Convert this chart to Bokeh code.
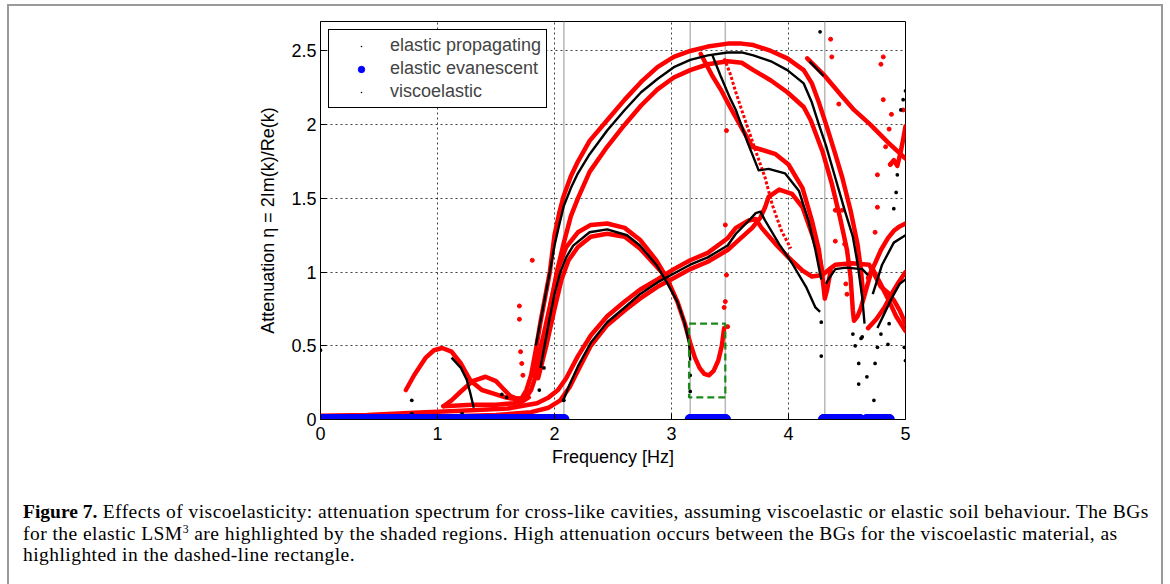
from bokeh.plotting import figure
from bokeh.models import (Legend, LegendItem, Span, Div, FixedTicker, NumeralTickFormatter)
from bokeh.layouts import column
from bokeh.embed import file_html
from bokeh.resources import INLINE

# ---------------- data ----------------
freq_ticks = [0, 1, 2, 3, 4, 5]
eta_ticks = [0, 0.5, 1, 1.5, 2, 2.5]
grid_freq = [1, 2, 3, 4]

band_start = [0.0, 3.16, 4.30, 4.67]
band_end = [2.08, 3.46, 4.61, 4.86]
band_edges = [2.08, 3.16, 3.46, 4.31]

box_f = [3.15, 3.46]
box_eta = [0.15, 0.65]

# viscoelastic branches (red)
ve1_f = [0.73, 0.8, 0.9, 0.97, 1.04, 1.12, 1.2, 1.28, 1.38, 1.48, 1.58, 1.65, 1.72, 1.76, 1.8, 1.84, 1.88,
         1.92, 1.96, 2.0, 2.04, 2.08, 2.14, 2.2, 2.3, 2.45, 2.6, 2.74, 2.88, 3.02, 3.16, 3.31, 3.48, 3.6,
         3.7, 3.85, 3.99, 4.13, 4.2, 4.26, 4.33, 4.4, 4.46, 4.53, 4.59, 4.62, 4.64]
ve1_eta = [0.2, 0.3, 0.42, 0.47, 0.485, 0.46, 0.38, 0.265, 0.2, 0.175, 0.15, 0.14, 0.145, 0.2, 0.3, 0.47, 0.66,
           0.83, 1.0, 1.25, 1.4, 1.52, 1.65, 1.75, 1.89, 2.03, 2.17, 2.29, 2.39, 2.46, 2.5, 2.53, 2.55, 2.55,
           2.54, 2.5, 2.45, 2.37, 2.28, 2.15, 1.98, 1.8, 1.64, 1.42, 1.19, 1.01, 0.83]
ve2_f = [1.05, 1.12, 1.2, 1.3, 1.41, 1.5, 1.56, 1.62, 1.68, 1.75, 1.8, 1.85, 1.9, 1.96, 2.02, 2.08, 2.14, 2.2,
         2.3, 2.45, 2.6, 2.74, 2.88, 3.02, 3.16, 3.31, 3.48, 3.6, 3.7, 3.85, 3.99, 4.13, 4.19, 4.29, 4.37,
         4.44, 4.5, 4.53, 4.55, 4.56, 4.59, 4.62, 4.67, 4.71]
ve2_eta = [0.09, 0.13, 0.19, 0.26, 0.29, 0.26, 0.21, 0.16, 0.14, 0.14, 0.2, 0.32, 0.5, 0.75, 1.0, 1.2, 1.38,
           1.5, 1.68, 1.85, 2.0, 2.13, 2.24, 2.32, 2.37, 2.41, 2.43, 2.42, 2.37, 2.3, 2.22, 2.12, 2.03, 1.82,
           1.6, 1.37, 1.15, 0.97, 0.74, 0.67, 0.7, 0.76, 0.9, 1.01]
ve3_f = [0.0, 0.4, 0.8, 1.2, 1.6, 1.85, 1.95, 2.03, 2.1, 2.2, 2.31, 2.45, 2.6, 2.73, 2.88, 3.02, 3.16, 3.31,
         3.48, 3.55, 3.66, 3.72, 3.77, 3.89, 4.0, 4.12, 4.2, 4.29, 4.35, 4.4, 4.54, 4.69, 4.79, 4.85, 4.9,
         4.95, 5.0]
ve3_eta = [0.025, 0.03, 0.045, 0.06, 0.075, 0.11, 0.15, 0.2, 0.28, 0.43, 0.57, 0.7, 0.8, 0.88, 0.95, 1.02,
           1.08, 1.13, 1.23, 1.3, 1.35, 1.36, 1.3, 1.19, 1.1, 1.01, 0.97, 0.98, 1.02, 1.05, 1.06, 1.05, 0.9,
           0.86, 0.81, 0.74, 0.65]
ve4_f = [0.0, 0.5, 1.0, 1.5, 1.8, 1.95, 2.05, 2.13, 2.2, 2.31, 2.45, 2.6, 2.73, 2.88, 3.02, 3.16, 3.31, 3.48,
         3.55, 3.69, 3.76, 3.8, 3.83, 3.92, 4.03, 4.12, 4.2, 4.26, 4.29]
ve4_eta = [0.01, 0.012, 0.018, 0.03, 0.05, 0.08, 0.13, 0.22, 0.33, 0.5, 0.64, 0.74, 0.82, 0.9, 0.96, 1.02,
           1.07, 1.15, 1.2, 1.3, 1.37, 1.44, 1.51, 1.56, 1.53, 1.44, 1.26, 1.12, 1.0]
ve5_f = [1.82, 1.9, 1.97, 2.03, 2.1, 2.2, 2.31, 2.45, 2.6, 2.73, 2.87, 2.96, 3.05, 3.11, 3.16, 3.2, 3.24, 3.28,
         3.32, 3.36, 3.4, 3.43, 3.45]
ve5_eta = [0.3, 0.55, 0.8, 1.02, 1.17, 1.27, 1.32, 1.33, 1.3, 1.22, 1.08, 0.96, 0.8, 0.66, 0.52, 0.42, 0.35,
           0.31, 0.3, 0.33, 0.4, 0.5, 0.62]
ve6_f = [1.86, 1.93, 2.0, 2.06, 2.12, 2.2, 2.31, 2.45, 2.6, 2.73, 2.87, 2.96]
ve6_eta = [0.28, 0.5, 0.75, 0.95, 1.08, 1.17, 1.24, 1.26, 1.24, 1.16, 1.04, 0.96]
ve7_f = [3.25, 3.35, 3.42, 3.5, 3.55, 3.62, 3.69, 3.77, 3.89, 4.0, 4.12, 4.2, 4.26, 4.29, 4.31, 4.33, 4.36]
ve7_eta = [2.48, 2.33, 2.24, 2.12, 2.05, 1.95, 1.85, 1.83, 1.8, 1.73, 1.57, 1.35, 1.15, 0.97, 0.82, 0.88, 1.01]
ve8_f = [3.45, 3.5, 3.55, 3.6, 3.66, 3.72, 3.8, 3.86, 3.94, 4.02]
ve8_eta = [2.45, 2.35, 2.22, 2.1, 1.96, 1.82, 1.64, 1.46, 1.28, 1.16]
ve9_f = [4.16, 4.3, 4.45, 4.56, 4.7, 4.85, 5.0]
ve9_eta = [2.45, 2.34, 2.2, 2.1, 2.0, 1.88, 1.77]
ve11_f = [4.68, 4.75, 4.82, 4.88, 4.94, 5.0]
ve11_eta = [0.62, 0.68, 0.76, 0.85, 0.93, 1.0]
ve12_f = [4.68, 4.74, 4.79, 4.85, 4.9, 4.95, 5.0]
ve12_eta = [0.96, 1.06, 1.15, 1.23, 1.28, 1.31, 1.33]
ve13_f = [4.72, 4.78, 4.85, 4.92, 5.0]
ve13_eta = [1.02, 0.93, 0.82, 0.7, 0.6]
ve14_f = [4.87, 4.9, 4.93, 4.96, 4.98, 5.0]
ve14_eta = [1.73, 1.76, 1.72, 1.82, 1.9, 1.99]
ve15_f = [1.05, 1.3, 1.5, 1.65, 1.72, 1.78]
ve15_eta = [0.09, 0.1, 0.1, 0.11, 0.12, 0.15]

ve_stray_f = [1.70, 1.70, 1.71, 1.72, 1.73, 1.81, 3.47, 3.46, 3.47, 3.46, 3.48, 3.45, 4.36, 4.37, 4.43, 4.40,
              4.46, 4.40, 4.48, 4.49, 4.50, 4.74, 4.76, 4.81, 4.79, 4.81, 4.88, 4.76, 4.83, 4.86, 4.87, 4.98]
ve_stray_eta = [0.77, 0.68, 0.46, 0.38, 0.3, 1.08, 1.96, 1.32, 0.98, 0.8, 0.63, 0.76, 2.58, 2.46, 2.14, 1.42,
                1.42, 1.21, 1.19, 0.92, 0.85, 1.27, 1.44, 2.46, 2.41, 2.17, 2.07, 1.66, 1.85, 1.97, 1.73, 2.1]

# elastic propagating branches (black)
ep1_f = [1.84, 1.9, 1.96, 2.0, 2.04, 2.08, 2.14, 2.2, 2.3, 2.45, 2.6, 2.74, 2.88, 3.02, 3.16, 3.31, 3.48, 3.6,
         3.7, 3.85, 3.99, 4.13, 4.2, 4.26, 4.32, 4.4, 4.48, 4.55, 4.59, 4.63, 4.65]
ep1_eta = [0.5, 0.75, 1.0, 1.18, 1.32, 1.45, 1.57, 1.67, 1.8, 1.96, 2.1, 2.22, 2.31, 2.39, 2.44, 2.47, 2.49,
           2.49, 2.47, 2.43, 2.37, 2.28, 2.15, 2.0, 1.86, 1.64, 1.42, 1.24, 1.06, 0.83, 0.65]
ep2_f = [1.88, 1.95, 2.0, 2.05, 2.1, 2.16, 2.3, 2.45, 2.62, 2.73, 2.87, 2.96, 3.05, 3.11, 3.15, 3.16]
ep2_eta = [0.35, 0.65, 0.85, 1.0, 1.1, 1.18, 1.27, 1.29, 1.25, 1.18, 1.05, 0.93, 0.8, 0.66, 0.52, 0.4]
ep3_f = [2.07, 2.12, 2.2, 2.31, 2.45, 2.6, 2.73, 2.88, 3.02, 3.16, 3.31, 3.48, 3.55, 3.65, 3.72, 3.76, 3.8,
         3.92, 4.03, 4.15, 4.23, 4.27]
ep3_eta = [0.12, 0.22, 0.36, 0.52, 0.66, 0.76, 0.85, 0.93, 0.99, 1.05, 1.1, 1.18, 1.26, 1.34, 1.4, 1.41, 1.35,
           1.19, 1.06, 0.9, 0.76, 0.73]
ep4_f = [3.35, 3.42, 3.5, 3.55, 3.65, 3.745, 3.83, 3.97, 4.09, 4.17, 4.23, 4.26, 4.28]
ep4_eta = [2.47, 2.33, 2.18, 2.1, 1.88, 1.69, 1.7, 1.67, 1.55, 1.35, 1.15, 1.03, 0.95]
ep5_f = [4.32, 4.34, 4.4, 4.49, 4.63, 4.68]
ep5_eta = [0.92, 0.95, 1.02, 1.03, 1.02, 0.98]
ep6_f = [4.72, 4.8, 4.9, 5.0]
ep6_eta = [0.85, 1.05, 1.2, 1.25]
ep7_f = [4.76, 4.82, 4.88, 4.95, 5.0]
ep7_eta = [0.62, 0.72, 0.82, 0.92, 0.95]
ep8_f = [4.18, 4.3]
ep8_eta = [2.43, 2.33]
ep9_f = [1.12, 1.2, 1.25, 1.28, 1.31]
ep9_eta = [0.42, 0.35, 0.27, 0.18, 0.08]

ep_stray_f = [0.0, 0.78, 0.78, 1.21, 1.59, 1.55, 1.87, 1.91, 2.08, 3.16, 3.16, 4.27, 4.28, 4.28, 4.6, 4.6, 4.63,
              4.67, 4.73, 4.74, 4.76, 4.79, 4.85, 4.86, 5.0, 4.99, 5.0, 4.98, 4.96, 4.93, 4.92, 4.9, 4.57, 4.55,
              4.62]
ep_stray_eta = [0.47, 0.13, 0.04, 0.04, 0.15, 0.17, 0.2, 0.35, 0.13, 0.19, 0.3, 2.63, 0.66, 0.43, 0.38, 0.24,
                0.56, 0.29, 0.13, 0.38, 0.49, 0.58, 0.51, 0.65, 0.4, 0.49, 2.23, 2.17, 2.1, 1.66, 1.54, 1.43,
                0.5, 0.58, 0.55]

red_branches = [(ve1_f, ve1_eta), (ve2_f, ve2_eta), (ve3_f, ve3_eta), (ve4_f, ve4_eta), (ve5_f, ve5_eta),
                (ve6_f, ve6_eta), (ve7_f, ve7_eta), (ve9_f, ve9_eta), (ve11_f, ve11_eta),
                (ve12_f, ve12_eta), (ve13_f, ve13_eta), (ve14_f, ve14_eta), (ve15_f, ve15_eta)]
black_branches = [(ep1_f, ep1_eta), (ep2_f, ep2_eta), (ep3_f, ep3_eta), (ep4_f, ep4_eta), (ep5_f, ep5_eta),
                  (ep6_f, ep6_eta), (ep7_f, ep7_eta), (ep8_f, ep8_eta), (ep9_f, ep9_eta)]

caption_bold = "Figure 7."
caption_1 = ("Effects of viscoelasticity: attenuation spectrum for cross-like cavities, assuming viscoelastic "
             "or elastic soil behaviour. The BGs")
caption_2a = "for the elastic LSM"
caption_sup = "3"
caption_2b = (" are highlighted by the shaded regions. High attenuation occurs between "
              "the BGs for the viscoelastic material, as")
caption_3 = "highlighted in the dashed-line rectangle."

# ---------------- figure ----------------
W, H_PLOT, H_CAP = 1170, 475, 109
p = figure(width=W, height=H_PLOT, x_range=(0, 5), y_range=(0, 2.7), output_backend="svg",
           toolbar_location=None, min_border_left=320, min_border_right=265, min_border_top=21,
           min_border_bottom=H_PLOT - 419, background_fill_color="white", border_fill_color=None)
p.outline_line_color = "black"
p.outline_line_width = 1

SANS = "Liberation Sans"
for ax in (p.xaxis[0], p.yaxis[0]):
    ax.major_tick_in = 6
    ax.major_tick_out = 0
    ax.minor_tick_line_color = None
    ax.axis_line_color = "black"
    ax.major_tick_line_color = "black"
    ax.major_label_text_font = SANS
    ax.major_label_text_font_size = "18px"
    ax.major_label_text_color = "black"
    ax.axis_label_text_font = SANS
    ax.axis_label_text_font_size = "18px"
    ax.axis_label_text_font_style = "normal"
    ax.axis_label_text_color = "black"
p.xaxis.ticker = FixedTicker(ticks=freq_ticks)
p.yaxis.ticker = FixedTicker(ticks=eta_ticks)
p.yaxis.formatter = NumeralTickFormatter(format="0.[0]")
p.xaxis.axis_label = "Frequency [Hz]"
p.yaxis.axis_label = "Attenuation \u03b7 = 2Im(k)/Re(k)"
p.xaxis.major_label_standoff = 7
p.yaxis.major_label_standoff = 4
p.xaxis.axis_label_standoff = 4
p.yaxis.axis_label_standoff = 10

p.xgrid.ticker = FixedTicker(ticks=grid_freq)
p.ygrid.ticker = FixedTicker(ticks=eta_ticks[1:])
for gr in (p.xgrid[0], p.ygrid[0]):
    gr.grid_line_color = "black"
    gr.grid_line_alpha = 0.75
    gr.grid_line_dash = "2 3"
    gr.grid_line_width = 1

for e in band_edges:
    p.add_layout(Span(location=e, dimension="height", line_color="#b9b9b9", line_width=1.5,
                      level="underlay"))

# red viscoelastic branches
for fx, ey in red_branches:
    p.line(fx, ey, line_color="#ff0000", line_width=4.5, line_join="round", line_cap="round")
p.line(ve8_f, ve8_eta, line_color="#ff0000", line_width=3, line_dash="3 2")
p.scatter(ve_stray_f, ve_stray_eta, marker="circle", size=4, color="#ff0000")

# black elastic propagating
for fx, ey in black_branches:
    p.line(fx, ey, line_color="black", line_width=2.4, line_join="round")
r_ep = p.scatter(ep_stray_f, ep_stray_eta, marker="dot", size=15, color="black")

# blue evanescent bands on the axis
p.segment(x0=band_start, y0=[0] * len(band_start), x1=band_end, y1=[0] * len(band_end),
          line_color="#0000ff", line_width=11, line_cap="round")
r_ee = p.scatter(band_start + band_end, [0] * (2 * len(band_start)), marker="circle", size=10,
                 color="#0000ff")

# green dashed rectangle
p.quad(left=[box_f[0]], right=[box_f[1]], bottom=[box_eta[0]], top=[box_eta[1]], fill_color=None,
       line_color="#1a8a1a", line_width=2.2, line_dash="7 4")

legend = Legend(items=[LegendItem(label="elastic propagating", renderers=[r_ep]),
                       LegendItem(label="elastic evanescent", renderers=[r_ee]),
                       LegendItem(label="viscoelastic", renderers=[r_ep])],
                location="top_left")
legend.border_line_color = "black"
legend.border_line_alpha = 1
legend.border_line_width = 1
legend.background_fill_alpha = 1
legend.label_text_font = SANS
legend.label_text_font_size = "18px"
legend.glyph_width = 54
legend.glyph_height = 16
legend.label_height = 18
legend.spacing = 2
legend.padding = 5
legend.margin = 8
legend.label_standoff = 2
p.add_layout(legend)

cap_html = (
    '<div style="font-family:\'Liberation Serif\',serif;font-size:19.5px;line-height:21.5px;'
    'letter-spacing:0.45px;white-space:nowrap;color:#000;padding:21px 0 0 18px;">'
    f'<b style="letter-spacing:0;">{caption_bold}</b> {caption_1}<br>'
    f'{caption_2a}<sup style="font-size:0.6em;line-height:0;">{caption_sup}</sup>{caption_2b}<br>'
    f'{caption_3}</div>'
)
cap = Div(text=cap_html, width=W, height=H_CAP)

g = "linear-gradient(#9a9a9a,#9a9a9a)"
layout = column(p, cap, spacing=0, styles={
    "background": f"{g} 7px 4px/2px 700px no-repeat, {g} 1161px 4px/2px 700px no-repeat, "
                  f"{g} 7px 4px/1156px 2px no-repeat, #ffffff"})

open("out.html", "w").write(file_html(layout, INLINE))
